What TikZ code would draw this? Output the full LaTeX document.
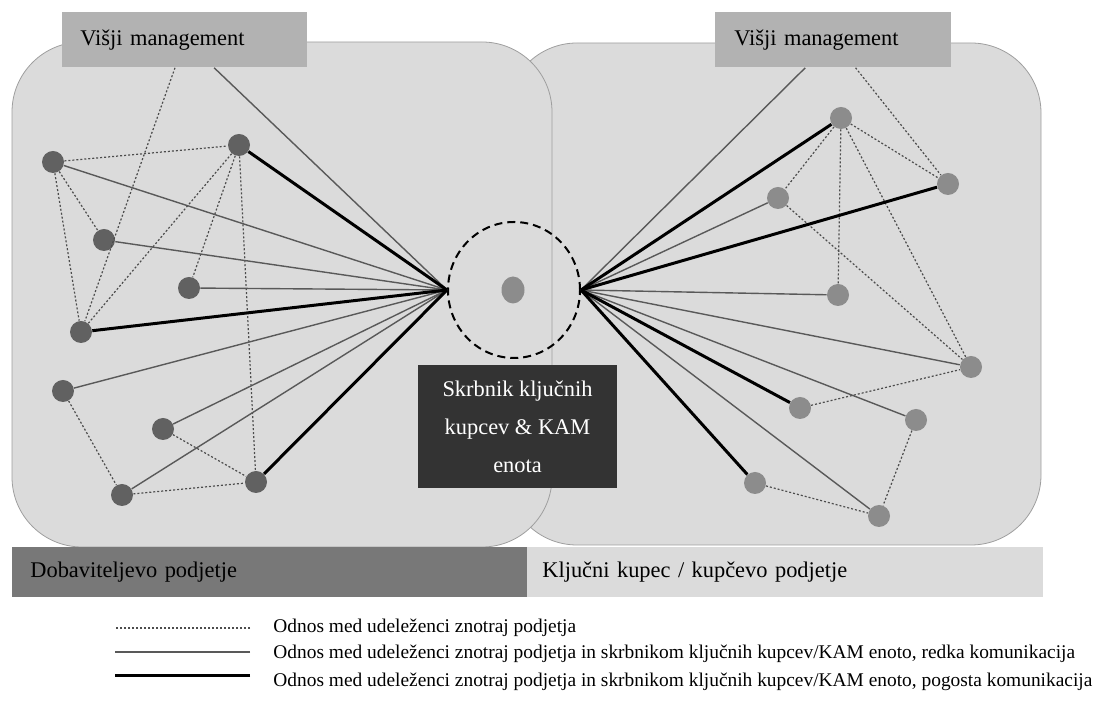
\documentclass[tikz,border=0pt]{standalone}
\usepackage{fontspec}
\setmainfont{Liberation Serif}
\usetikzlibrary{shapes.geometric}

\begin{document}
\begin{tikzpicture}[x=0.5pt, y=-0.5pt,
    supp/.style={circle, minimum size=11pt, inner sep=0pt, fill=black!62},
    cust/.style={circle, minimum size=11pt, inner sep=0pt, fill=black!45},
    intra/.style={draw=black!70, line width=0.6pt, dash pattern=on 1pt off 1pt},
    rare/.style={draw=black!65, line width=0.7pt},
    freq/.style={draw=black, line width=1.5pt},
    mgmt/.style={rectangle, fill=black!30, anchor=north west, minimum height=27.5pt, inner xsep=9pt, align=left, font=\fontsize{11.2}{13}\selectfont},
    bar/.style={rectangle, anchor=north west, minimum height=25pt, inner xsep=9pt, align=left, font=\fontsize{11.2}{13}\selectfont},
    legend/.style={anchor=west, inner sep=0pt, font=\fontsize{9.7}{12}\selectfont}]

    \useasboundingbox (0, 0) rectangle (1103, 704);

    \draw[draw=black!38, fill=black!14, rounded corners=35pt] (507, 43) rectangle (1041, 545);
    \draw[draw=black!38, fill=black!14, rounded corners=35pt] (12, 42) rectangle (552, 547);

    \node[bar, fill=black!53, text width=239.5pt] (bar-s) at (12, 547) {Dobaviteljevo podjetje};
    \node[bar, fill=black!14, inner xsep=7.5pt, text width=243pt] (bar-k) at (527, 547) {Ključni kupec / kupčevo podjetje};

    \node[mgmt, text width=104.5pt] (vm-s) at (62, 12) {Višji management};
    \node[mgmt, inner xsep=9.5pt, text width=99pt] (vm-k) at (715, 12) {Višji management};

    \node[ellipse, draw, line width=1pt, dash pattern=on 4pt off 2.5pt, minimum width=66pt, minimum height=68pt, inner sep=0pt] (kam) at (514, 290) {};
    \node[ellipse, fill=black!45, minimum width=11.5pt, minimum height=13.5pt, inner sep=0pt] (kam-0) at (513, 290) {};

    \node[supp] (s-1) at (53, 162) {};
    \node[supp] (s-2) at (239, 145) {};
    \node[supp] (s-3) at (104, 240) {};
    \node[supp] (s-4) at (189, 288) {};
    \node[supp] (s-5) at (81, 332) {};
    \node[supp] (s-6) at (63, 391) {};
    \node[supp] (s-7) at (163, 429) {};
    \node[supp] (s-8) at (122, 495) {};
    \node[supp] (s-9) at (256, 482) {};

    \draw[intra] (s-1) -- (s-2);
    \draw[intra] (s-1) -- (s-3);
    \draw[intra] (s-1) -- (s-5);
    \draw[intra] (vm-s) -- (s-5);
    \draw[intra] (s-2) -- (s-5);
    \draw[intra] (s-2) -- (s-4);
    \draw[intra] (s-2) -- (s-9);
    \draw[intra] (s-6) -- (s-8);
    \draw[intra] (s-7) -- (s-9);
    \draw[intra] (s-8) -- (s-9);

    \draw[rare] (vm-s) -- (kam.west);
    \draw[rare] (s-1) -- (kam.west);
    \draw[rare] (s-3) -- (kam.west);
    \draw[rare] (s-4) -- (kam.west);
    \draw[rare] (s-6) -- (kam.west);
    \draw[rare] (s-7) -- (kam.west);
    \draw[rare] (s-8) -- (kam.west);
    \draw[freq] (s-2) -- (kam.west);
    \draw[freq] (s-5) -- (kam.west);
    \draw[freq] (s-9) -- (kam.west);


    \node[cust] (k-1) at (841, 118) {};
    \node[cust] (k-2) at (948, 184) {};
    \node[cust] (k-3) at (778, 198) {};
    \node[cust] (k-4) at (838, 295) {};
    \node[cust] (k-5) at (971, 367) {};
    \node[cust] (k-6) at (800, 408) {};
    \node[cust] (k-7) at (916, 420) {};
    \node[cust] (k-8) at (755, 483) {};
    \node[cust] (k-9) at (879, 516) {};

    \draw[intra] (vm-k) -- (k-2);
    \draw[intra] (k-1) -- (k-2);
    \draw[intra] (k-1) -- (k-3);
    \draw[intra] (k-1) -- (k-4);
    \draw[intra] (k-1) -- (k-5);
    \draw[intra] (k-3) -- (k-5);
    \draw[intra] (k-6) -- (k-5);
    \draw[intra] (k-7) -- (k-9);
    \draw[intra] (k-8) -- (k-9);

    \draw[rare] (vm-k) -- (kam.east);
    \draw[rare] (k-3) -- (kam.east);
    \draw[rare] (k-4) -- (kam.east);
    \draw[rare] (k-5) -- (kam.east);
    \draw[rare] (k-7) -- (kam.east);
    \draw[rare] (k-9) -- (kam.east);
    \draw[freq] (k-1) -- (kam.east);
    \draw[freq] (k-2) -- (kam.east);
    \draw[freq] (k-6) -- (kam.east);
    \draw[freq] (k-8) -- (kam.east);

    \node[fill=black!80, text=white, align=center, minimum width=99.5pt, minimum height=61.5pt, font=\fontsize{11.2}{19}\selectfont] (kam-box) at (517.5, 426.5) {Skrbnik ključnih\\kupcev \& KAM\\enota};


    \node[legend] (leg-1) at (273, 628) {Odnos med udeleženci znotraj podjetja};
    \node[legend] (leg-2) at (273, 654) {Odnos med udeleženci znotraj podjetja in skrbnikom ključnih kupcev/KAM enoto, redka komunikacija};
    \node[legend] (leg-3) at (273, 682) {Odnos med udeleženci znotraj podjetja in skrbnikom ključnih kupcev/KAM enoto, pogosta komunikacija};

    \draw[intra] ([xshift=-11.5pt]leg-1.west) -- ++(-67.5pt, 0);
    \draw[rare] ([xshift=-11.5pt, yshift=1pt]leg-2.west) -- ++(-67.5pt, 0);
    \draw[freq] ([xshift=-11.5pt, yshift=3pt]leg-3.west) -- ++(-67.5pt, 0);
\end{tikzpicture}
\end{document}
